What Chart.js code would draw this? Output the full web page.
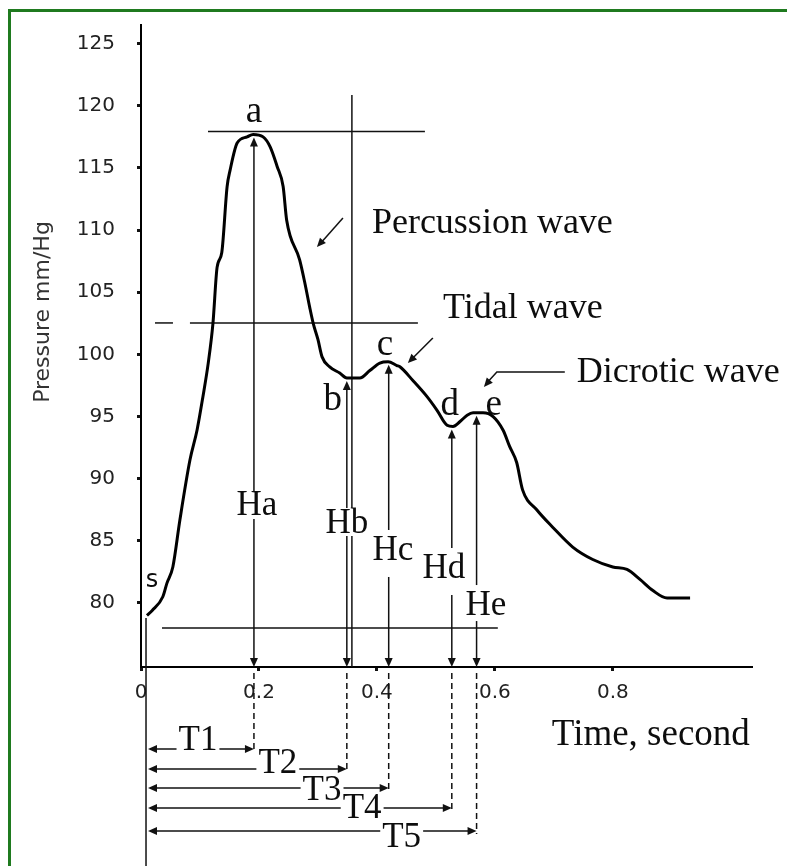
<!DOCTYPE html>
<html>
<head>
<meta charset="utf-8">
<script src="https://cdn.jsdelivr.net/npm/chart.js"></script>
<style>
  html, body { margin: 0; padding: 0; background: #fff; }
  #wrap { position: relative; width: 787px; height: 866px; overflow: hidden; }
  #frame { position: absolute; left: 8px; top: 9px; width: 900px; height: 900px;
           border-left: 3px solid #1f7a1f; border-top: 3px solid #1f7a1f; pointer-events: none; }
</style>
</head>
<body>
<div id="wrap">
  <canvas id="pulseChart" width="787" height="866"></canvas>
  <div id="frame"></div>
</div>
<script>
// Pulse waveform (time in s, pressure in mmHg)
const timeS = [0.010, 0.019, 0.037, 0.044, 0.054, 0.066, 0.083, 0.095, 0.105, 0.114,
  0.122, 0.129, 0.137, 0.146, 0.151, 0.163, 0.180, 0.190, 0.207, 0.219,
  0.231, 0.241, 0.247, 0.269, 0.278, 0.286, 0.292, 0.300, 0.307, 0.320,
  0.337, 0.349, 0.371, 0.388, 0.405, 0.419, 0.434, 0.439, 0.461, 0.485,
  0.502, 0.519, 0.529, 0.541, 0.553, 0.563, 0.580, 0.597, 0.614, 0.625,
  0.637, 0.647, 0.671, 0.698, 0.732, 0.766, 0.800, 0.824, 0.846, 0.868,
  0.892, 0.931];
const pressure = [79.0, 79.4, 80.5, 81.6, 82.9, 86.7, 91.5, 93.9, 96.6, 99.3,
  102.5, 107.0, 108.2, 113.5, 114.8, 117.0, 117.5, 117.7, 117.5, 116.7,
  115.1, 113.5, 110.8, 107.6, 105.7, 103.8, 102.5, 101.2, 99.8, 99.0,
  98.5, 98.1, 98.1, 98.7, 99.3, 99.4, 99.1, 99.0, 97.9, 96.6,
  95.5, 94.3, 94.2, 94.6, 95.1, 95.3, 95.3, 95.0, 93.9, 92.6,
  91.3, 89.1, 87.5, 86.1, 84.5, 83.5, 82.9, 82.7, 81.9, 81.0,
  80.4, 80.4];

// characteristic points a..e
const pointNames = ["a", "b", "c", "d", "e"];
const pointTimes = [0.1915, 0.349, 0.420, 0.527, 0.569];
const pointPressures = [117.7, 98.1, 99.4, 94.2, 95.3];
const heightNames = ["Ha", "Hb", "Hc", "Hd", "He"];
const intervalNames = ["T1", "T2", "T3", "T4", "T5"];

const xTicks = [0, 0.2, 0.4, 0.6, 0.8];
const yTicks = [80, 85, 90, 95, 100, 105, 110, 115, 120, 125];

const serif = '"Liberation Serif", "Times New Roman", serif';
const sans = '"DejaVu Sans", sans-serif';

// helpers for drawing
function line(ctx, pts, dash) {
    ctx.save();
    ctx.setLineDash(dash || []);
    ctx.beginPath();
    ctx.moveTo(pts[0][0], pts[0][1]);
    for (let i = 1; i < pts.length; i++) ctx.lineTo(pts[i][0], pts[i][1]);
    ctx.stroke();
    ctx.restore();
}

function head(ctx, fromX, fromY, tipX, tipY) {
    const a = Math.atan2(tipY - fromY, tipX - fromX);
    const len = 9, half = 4;
    ctx.beginPath();
    ctx.moveTo(tipX, tipY);
    ctx.lineTo(tipX - len * Math.cos(a) + half * Math.sin(a), tipY - len * Math.sin(a) - half * Math.cos(a));
    ctx.lineTo(tipX - len * Math.cos(a) - half * Math.sin(a), tipY - len * Math.sin(a) + half * Math.cos(a));
    ctx.closePath();
    ctx.fill();
}

function text(ctx, str, px, py, font, align, gap) {
    ctx.font = font;
    ctx.textAlign = align || "center";
    ctx.textBaseline = "alphabetic";
    if (gap) {
        const w = ctx.measureText(str).width;
        const left = align === "left" ? px : px - w / 2;
        ctx.fillStyle = "#fff";
        ctx.fillRect(left - 2, py - gap[0], w + 4, gap[0] + gap[1]);
    }
    ctx.fillStyle = "#0d0d0d";
    ctx.fillText(str, px, py);
}

const annotate = {
    id: "annotate",
    beforeDatasetsDraw(chart) {
        const { ctx, chartArea: area, scales: { x, y } } = chart;
        const X = t => x.getPixelForValue(t);
        const Y = p => y.getPixelForValue(p);
        const base = area.bottom;

        ctx.save();
        ctx.strokeStyle = "#111";
        ctx.fillStyle = "#111";
        ctx.lineWidth = 1.5;

        // reference lines
        line(ctx, [[X(0.1136), Y(117.93)], [X(0.4814), Y(117.93)]]);
        line(ctx, [[X(0.0237), Y(102.53)], [X(0.0542), Y(102.53)]]);
        line(ctx, [[X(0.083), Y(102.53)], [X(0.4695), Y(102.53)]]);
        line(ctx, [[X(0.0356), Y(77.99)], [X(0.605), Y(77.99)]]);
        line(ctx, [[X(0.3576), Y(120.87)], [X(0.3576), base]]);
        // start line below s
        line(ctx, [[X(0.0085), Y(78.8)], [X(0.0085), chart.height]]);

        // H arrows from each point down to the axis
        pointTimes.forEach((t, i) => {
            const px = X(t), top = Y(pointPressures[i]) + 3;
            line(ctx, [[px, top + 6], [px, base - 6]]);
            head(ctx, px, top + 10, px, top);
            head(ctx, px, base - 10, px, base);
        });

        // T intervals below the axis
        const tRows = [82, 102, 121, 141, 164];
        pointTimes.forEach((t, i) => {
            const px = X(t), ry = base + tRows[i];
            line(ctx, [[px, base + 6], [px, ry + 3]], [6, 4]);
            const x0 = X(0.0085) + 2;
            line(ctx, [[x0 + 6, ry], [px - 6, ry]]);
            head(ctx, x0 + 10, ry, x0, ry);
            head(ctx, px - 10, ry, px, ry);
        });

        // pointer arrows for wave names
        line(ctx, [[X(0.3424), Y(110.97)], [X(0.2983) + 3, Y(108.64) - 3]]);
        head(ctx, X(0.3424), Y(110.97), X(0.2983), Y(108.64));
        line(ctx, [[X(0.4949), Y(101.32)], [X(0.4525) + 3, Y(99.31) - 3]]);
        head(ctx, X(0.4949), Y(101.32), X(0.4525), Y(99.31));
        line(ctx, [[X(0.7186), Y(98.58)], [X(0.6034), Y(98.58)], [X(0.5814) + 2, Y(97.38) - 3]]);
        head(ctx, X(0.6034), Y(98.58), X(0.5814), Y(97.38));

        // point letters
        const letterPos = [[0.1915, 118.70], [0.325, 95.53], [0.4136, 99.95], [0.5237, 95.12], [0.598, 95.12]];
        pointNames.forEach((n, i) => text(ctx, n, X(letterPos[i][0]), Y(letterPos[i][1]), "37px " + serif));
        text(ctx, "s", X(0.0186), Y(81.29), "24px " + sans);

        // H labels cut the arrow lines
        const hPos = [[0.1966, 87.08], [0.349, 85.63], [0.427, 83.46], [0.5136, 82.01], [0.5847, 79.03]];
        const hGap = [[24, 4], [25, 3], [30, 17], [30, 17], [30, 6]];
        heightNames.forEach((n, i) => text(ctx, n, X(hPos[i][0]), Y(hPos[i][1]), "35px " + serif, "center", hGap[i]));

        // T labels cut the interval lines
        const tLab = [[0.0966, 83], [0.232, 106], [0.307, 133], [0.375, 151], [0.442, 180]];
        intervalNames.forEach((n, i) => text(ctx, n, X(tLab[i][0]), base + tLab[i][1], "35px " + serif, "center", [24, 3]));

        // wave names and x title
        text(ctx, "Percussion wave", X(0.3915), Y(109.77), "36px " + serif, "left");
        text(ctx, "Tidal wave", X(0.512), Y(102.93), "36px " + serif, "left");
        text(ctx, "Dicrotic wave", X(0.739), Y(97.78), "36px " + serif, "left");
        text(ctx, "Time, second", X(0.6966), base + 78, "37px " + serif, "left");

        // y title
        ctx.translate(43, 312);
        ctx.rotate(-Math.PI / 2);
        ctx.font = "22px " + sans;
        ctx.textAlign = "center";
        ctx.textBaseline = "middle";
        ctx.fillStyle = "#333";
        ctx.fillText("Pressure mm/Hg", 0, 0);
        ctx.restore();
    }
};

function noPad(scale) {
    scale.paddingTop = 0;
    scale.paddingBottom = 0;
    scale.paddingLeft = 0;
    scale.paddingRight = 0;
}

const ctx = document.getElementById("pulseChart").getContext("2d");
const pulseChart = new Chart(ctx, {
    type: "line",
    data: {
        datasets: [{
            data: timeS.map((t, i) => ({ x: t, y: pressure[i] })),
            borderColor: "#000",
            borderWidth: 3,
            pointRadius: 0,
            cubicInterpolationMode: "monotone",
            fill: false
        }]
    },
    options: {
        responsive: false,
        animation: false,
        layout: { padding: { left: 0, top: 25, right: 35, bottom: 0 } },
        plugins: { legend: { display: false }, tooltip: { enabled: false } },
        scales: {
            x: {
                type: "linear",
                min: 0,
                max: 1.036,
                afterBuildTicks: s => { s.ticks = xTicks.map(v => ({ value: v })); },
                afterFit: s => { s.height = 199; noPad(s); },
                ticks: {
                    padding: 10,
                    color: "#222",
                    font: { family: "DejaVu Sans", size: 20 },
                    callback: v => (v === 0 ? "0" : v.toFixed(1))
                },
                grid: { drawOnChartArea: false, tickLength: 4, tickWidth: 3, tickColor: "#111" },
                border: { color: "#000", width: 2 }
            },
            y: {
                min: 74.85,
                max: 126.5,
                afterBuildTicks: s => { s.ticks = yTicks.map(v => ({ value: v })); },
                afterFit: s => { s.width = 141; noPad(s); },
                ticks: {
                    padding: 22,
                    color: "#222",
                    font: { family: "DejaVu Sans", size: 20 }
                },
                grid: { drawOnChartArea: false, tickLength: 4, tickWidth: 3, tickColor: "#111" },
                border: { color: "#000", width: 2 }
            }
        }
    },
    plugins: [annotate]
});
</script>
</body>
</html>
